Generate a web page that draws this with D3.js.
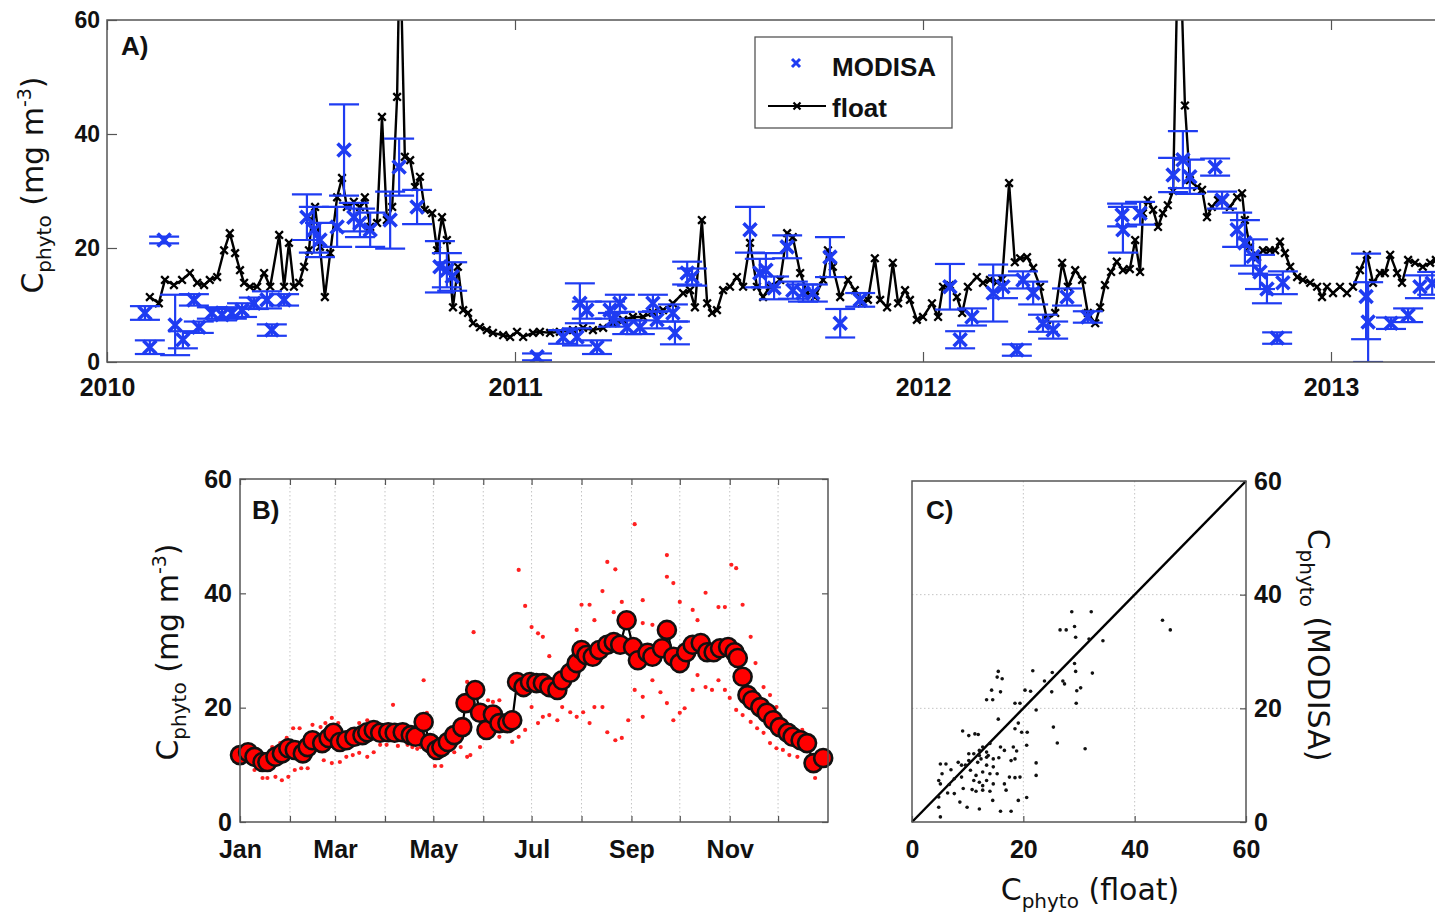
<!DOCTYPE html>
<html>
<head>
<meta charset="utf-8">
<script src="https://cdn.jsdelivr.net/npm/d3@7"></script>
<style>
  html, body { margin: 0; padding: 0; background: #fff; }
  svg { display: block; }
</style>
</head>
<body>
<svg id="fig" width="1435" height="916"></svg>
<script>
// ---------------- Panel A: float time series and MODISA match-ups ----------------
// [decimal year, Cphyto mg m-3]
const floatSeries = [
  [2010.105,11.4],[2010.127,10.3],[2010.142,14.4],[2010.164,13.5],[2010.184,14.4],[2010.203,15.6],
  [2010.221,13.9],[2010.238,13.5],[2010.252,14.4],[2010.270,14.9],[2010.287,19.6],[2010.301,22.6],
  [2010.314,19.1],[2010.326,16.1],[2010.336,13.9],[2010.350,13.2],[2010.368,13.2],[2010.385,15.6],
  [2010.400,13.2],[2010.422,22.3],[2010.434,13.2],[2010.446,20.9],[2010.458,13.2],[2010.471,13.9],
  [2010.483,16.7],[2010.495,19.6],[2010.502,24.9],[2010.510,27.2],[2010.522,20.2],[2010.534,11.4],
  [2010.547,19.1],[2010.564,28.9],[2010.576,32.3],[2010.588,27.2],[2010.605,28.1],[2010.620,27.2],
  [2010.632,28.9],[2010.645,23.7],[2010.662,24.4],[2010.674,43.0],[2010.686,24.9],[2010.699,27.2],
  [2010.711,46.5],[2010.718,75.0],[2010.730,36.0],[2010.743,35.4],[2010.755,30.7],[2010.767,32.5],
  [2010.779,26.7],[2010.797,26.1],[2010.809,19.6],[2010.821,25.4],[2010.833,21.4],[2010.848,9.6],
  [2010.860,16.7],[2010.873,9.1],[2010.885,8.6],[2010.897,6.8],[2010.914,6.1],[2010.931,5.6],
  [2010.946,5.1],[2010.971,4.7],[2010.988,4.4],[2011.005,5.3],[2011.020,4.4],[2011.044,5.1],
  [2011.061,5.3],[2011.086,5.1],[2011.110,5.3],[2011.142,5.6],[2011.167,6.0],[2011.191,5.6],
  [2011.216,6.0],[2011.240,6.8],[2011.265,7.4],[2011.289,7.9],[2011.314,7.9],[2011.338,8.6],
  [2011.363,9.1],[2011.387,10.3],[2011.412,12.1],[2011.429,12.6],[2011.441,9.6],[2011.458,24.9],
  [2011.471,10.3],[2011.483,8.6],[2011.495,9.1],[2011.510,12.6],[2011.527,13.2],[2011.544,14.9],
  [2011.559,13.2],[2011.576,20.9],[2011.593,13.2],[2011.608,11.4],[2011.625,13.2],[2011.650,14.4],
  [2011.667,22.6],[2011.681,21.9],[2011.699,15.6],[2011.716,12.1],[2011.735,11.4],[2011.755,14.4],
  [2011.767,19.6],[2011.779,16.7],[2011.797,11.4],[2011.816,14.4],[2011.833,12.6],[2011.850,10.3],
  [2011.865,10.9],[2011.882,18.2],[2011.895,10.9],[2011.912,9.6],[2011.926,17.4],[2011.939,10.3],
  [2011.956,12.6],[2011.968,10.9],[2011.985,7.4],[2012.000,7.9],[2012.022,10.3],[2012.037,7.9],
  [2012.049,13.2],[2012.066,13.5],[2012.083,11.4],[2012.096,8.6],[2012.110,13.2],[2012.132,14.9],
  [2012.147,13.9],[2012.164,14.4],[2012.181,14.0],[2012.194,14.5],[2012.211,31.4],[2012.225,17.5],
  [2012.238,18.2],[2012.255,18.4],[2012.270,16.5],[2012.287,13.2],[2012.304,7.4],[2012.324,8.6],
  [2012.341,17.4],[2012.355,13.2],[2012.373,16.1],[2012.390,14.4],[2012.404,8.6],[2012.422,6.8],
  [2012.434,9.6],[2012.446,13.5],[2012.461,15.8],[2012.475,17.6],[2012.490,16.1],[2012.507,16.3],
  [2012.520,21.4],[2012.532,15.8],[2012.539,26.1],[2012.551,28.4],[2012.564,26.7],[2012.576,23.7],
  [2012.588,26.1],[2012.600,27.5],[2012.613,30.0],[2012.627,80.0],[2012.642,45.0],[2012.654,31.9],
  [2012.672,30.7],[2012.684,30.2],[2012.696,25.4],[2012.708,27.2],[2012.723,28.4],[2012.735,28.4],
  [2012.752,27.2],[2012.770,28.9],[2012.782,29.6],[2012.789,24.9],[2012.801,20.2],[2012.819,18.4],
  [2012.833,19.6],[2012.850,19.6],[2012.863,19.6],[2012.875,21.1],[2012.887,19.1],[2012.900,16.7],
  [2012.917,14.9],[2012.931,14.4],[2012.949,13.9],[2012.966,13.2],[2012.978,11.4],[2012.990,13.2],
  [2013.005,12.1],[2013.022,13.2],[2013.039,12.1],[2013.054,13.2],[2013.071,16.1],[2013.088,18.8],
  [2013.103,13.9],[2013.120,15.6],[2013.132,15.6],[2013.145,18.8],[2013.162,15.6],[2013.174,13.9],
  [2013.189,17.9],[2013.206,17.4],[2013.225,16.7],[2013.243,17.4],[2013.257,17.9]
];

// [decimal year, Cphyto, error half-width]
const modisSeries = [
  [2010.093,8.6,1.2],[2010.105,2.6,1.2],[2010.140,21.4,0.6],[2010.167,6.5,5.3],[2010.186,3.9,1.5],
  [2010.213,10.9,1.0],[2010.225,6.1,1.0],[2010.257,8.6,1.0],[2010.282,8.3,1.0],[2010.306,8.6,1.0],
  [2010.331,9.1,1.2],[2010.360,10.3,1.0],[2010.392,10.9,1.5],[2010.404,5.6,1.0],[2010.434,10.9,1.0],
  [2010.490,25.4,4.0],[2010.507,23.2,4.0],[2010.522,21.4,3.0],[2010.564,23.7,3.5],[2010.581,37.2,8.0],
  [2010.605,25.4,2.5],[2010.620,24.4,2.5],[2010.645,23.2,3.0],[2010.694,24.9,5.0],[2010.716,34.2,5.0],
  [2010.760,27.2,3.0],[2010.816,16.7,4.5],[2010.833,16.1,3.0],[2010.846,15.0,2.5],
  [2011.054,0.9,0.6],[2011.118,4.4,1.2],[2011.152,4.4,1.5],[2011.159,10.3,3.5],[2011.176,9.1,1.5],
  [2011.201,2.6,1.2],[2011.233,9.1,1.5],[2011.240,7.4,1.2],[2011.257,10.3,1.5],[2011.275,6.1,1.2],
  [2011.306,6.1,1.2],[2011.338,10.3,1.5],[2011.348,7.4,1.5],[2011.387,8.6,1.5],[2011.392,5.1,2.0],
  [2011.422,15.6,2.0],[2011.434,14.9,1.5],[2011.576,23.2,4.0],[2011.600,15.6,2.5],[2011.615,16.1,3.0],
  [2011.635,13.0,2.0],[2011.667,20.2,2.0],[2011.681,12.6,1.5],[2011.706,12.1,1.5],[2011.730,12.1,1.5],
  [2011.772,18.4,3.5],[2011.797,6.8,2.5],[2011.846,10.9,1.2],
  [2012.066,13.2,4.0],[2012.091,3.9,1.5],[2012.120,7.9,1.5],[2012.172,12.1,5.0],[2012.196,13.2,2.0],
  [2012.230,2.1,1.0],[2012.245,14.4,1.5],[2012.270,12.1,2.0],[2012.294,6.8,1.5],[2012.319,5.6,1.5],
  [2012.353,11.4,1.5],[2012.404,7.9,1.0],[2012.488,25.8,2.0],[2012.490,23.2,4.0],[2012.532,26.1,2.0],
  [2012.613,32.8,3.0],[2012.637,35.5,5.0],[2012.654,32.5,3.0],[2012.716,34.2,1.5],[2012.733,28.4,1.5],
  [2012.770,23.2,3.0],[2012.789,20.9,4.0],[2012.809,18.5,3.0],[2012.826,15.8,3.0],[2012.843,12.8,2.5],
  [2012.868,4.2,1.0],[2012.882,13.9,2.0],
  [2013.086,11.5,7.5],[2013.091,7.0,7.0],[2013.147,6.8,1.0],[2013.189,8.2,1.2],[2013.218,13.2,2.0],
  [2013.248,13.8,2.0]
];

const yearTicks = [2010, 2011, 2012, 2013];
const cphytoTicks = [0, 20, 40, 60];
const legendLabels = ["MODISA", "float"];

// ---------------- Panel B: seasonal climatology ----------------
// [day of year, mean Cphyto]
const climMean = [
  [0,11.7],[5,12.2],[9,11.4],[14,10.5],[17,10.5],[22,11.4],[26,12.0],[30,12.9],[34,12.6],[39,12.0],
  [42,13.1],[45,14.3],[51,13.8],[55,14.7],[58,15.6],[62,14.0],[66,14.3],[71,14.9],[76,15.2],[79,15.7],
  [83,16.1],[87,15.6],[92,15.7],[96,15.6],[101,15.7],[106,15.2],[109,14.9],[114,17.5],[118,13.8],
  [122,12.6],[125,13.1],[129,14.0],[133,15.2],[138,16.6],[140,20.8],[146,23.1],[149,19.1],[153,16.1],
  [157,18.8],[161,17.3],[166,17.3],[169,17.8],[172,24.5],[176,23.6],[180,24.5],[184,24.3],[188,24.3],
  [192,23.6],[197,23.1],[200,24.8],[205,26.1],[209,27.8],[212,30.1],[215,29.2],[219,28.9],[223,30.1],
  [228,31.0],[232,31.5],[236,31.0],[240,35.3],[244,30.6],[247,28.3],[253,29.6],[256,28.9],[262,30.4],
  [265,33.6],[269,28.9],[273,27.8],[277,29.7],[281,31.0],[286,31.3],[290,29.7],[294,29.7],[298,30.4],
  [303,30.6],[307,29.7],[309,28.7],[312,25.4],[315,22.2],[318,21.3],[323,20.1],[327,19.1],[331,17.8],
  [335,16.6],[340,15.6],[343,14.9],[348,14.3],[352,13.8],[356,10.3],[362,11.2]
];

// [day of year, Cphyto] individual yearly values
const yearlyValues = [
  [0,13.1],[4,13.1],[0,10.8],[9,9.1],[14,7.7],[17,7.7],[22,7.9],[26,7.3],[30,7.9],[34,9.1],[38,9.4],
  [42,9.4],[20,13.1],[25,13.8],[29,14.7],[33,16.4],[37,16.4],[45,17.0],[50,16.6],[53,17.3],[57,18.2],
  [61,17.3],[52,10.8],[57,10.3],[62,10.5],[66,11.4],[70,11.7],[74,12.1],[79,11.4],[83,12.2],[87,13.5],
  [91,13.5],[74,17.3],[79,17.8],[83,16.6],[95,20.5],[98,13.3],[101,16.1],[104,13.5],[107,13.1],
  [110,12.8],[112,13.1],[116,19.1],[121,9.8],[125,9.8],[129,13.1],[133,12.2],[137,13.1],[141,11.4],
  [114,24.8],[145,33.2],[141,24.5],[143,11.7],[149,13.1],[154,21.3],[157,21.0],[161,21.3],[161,14.9],
  [169,14.0],[173,14.9],[173,44.1],[177,37.8],[181,34.1],[185,33.0],[188,32.4],[192,29.0],[177,16.1],
  [181,20.1],[185,17.3],[188,18.4],[192,18.7],[197,17.8],[200,20.1],[205,19.2],[209,18.4],[213,19.2],
  [217,17.3],[220,20.1],[225,20.1],[228,15.7],[233,14.3],[237,14.7],[241,17.8],[245,23.1],[250,18.4],
  [250,21.9],[256,24.8],[261,22.7],[265,20.8],[269,17.8],[273,19.1],[276,19.9],[281,23.1],[284,25.7],
  [289,23.6],[293,23.1],[297,24.8],[301,23.1],[304,21.7],[308,19.6],[312,18.7],[317,17.5],[321,16.4],
  [325,15.6],[329,13.8],[333,12.9],[337,12.6],[341,11.7],[346,11.4],[349,13.1],[353,12.6],[217,38.0],
  [228,45.5],[233,44.2],[225,40.4],[212,38.0],[220,35.3],[209,33.6],[245,52.1],[237,38.5],[250,38.8],
  [232,36.7],[250,34.8],[256,34.5],[265,46.7],[265,42.9],[269,41.8],[273,38.5],[281,37.1],[284,35.3],
  [289,40.1],[297,37.6],[301,37.6],[305,45.0],[308,44.4],[312,38.0],[317,32.4],[320,27.8],[325,23.6],
  [329,22.2],[333,20.1],[337,17.3],[340,16.1],[344,14.7],[349,16.1],[357,7.7],[360,9.5],[363,12.5]
];

const monthStarts = [0, 31, 59, 90, 120, 151, 181, 212, 243, 273, 304, 334];
const monthNames = ["Jan","Feb","Mar","Apr","May","Jun","Jul","Aug","Sep","Oct","Nov","Dec"];

// ---------------- Panel C: float vs MODISA ----------------
// [float Cphyto, MODISA Cphyto]
const matchups = [
  [28.7,37.0],[32.2,37.0],[45.0,35.5],[46.4,33.8],[26.6,33.8],[27.7,33.8],[29.2,34.4],[29.4,32.5],
  [31.8,32.2],[34.3,31.9],[29.2,27.9],[29.4,26.5],[32.4,26.2],[21.7,26.6],[25.2,26.3],[15.5,26.5],
  [16.2,25.2],[15.3,25.5],[23.8,24.8],[27.1,24.8],[27.4,24.3],[30.3,23.6],[29.6,23.1],[25.1,22.9],
  [14.3,23.2],[15.9,22.9],[20.3,23.2],[21.3,23.0],[13.4,21.5],[14.5,21.5],[18.5,20.9],[19.4,20.9],
  [29.5,20.9],[22.3,19.7],[15.5,18.1],[19.1,17.4],[18.5,16.4],[25.4,16.7],[19.7,15.8],[20.7,15.8],
  [9.1,16.0],[10.2,15.2],[11.3,15.5],[11.9,15.4],[26.1,13.9],[31.1,12.9],[20.6,13.5],[12.7,13.2],
  [14.0,13.8],[15.9,13.2],[16.6,12.6],[18.2,13.2],[18.8,12.5],[18.5,11.1],[11.1,12.0],[12.1,11.7],
  [13.4,11.4],[14.6,11.1],[10.2,10.8],[11.8,10.5],[12.4,11.1],[17.8,10.8],[22.3,10.4],[5.1,10.2],
  [6.1,10.2],[8.3,10.5],[9.6,10.0],[13.4,10.0],[14.6,9.7],[7.0,9.2],[10.5,9.1],[12.7,8.8],[14.0,8.5],
  [5.4,8.5],[22.3,8.2],[11.5,8.2],[8.9,7.9],[17.5,7.9],[19.4,7.9],[18.5,7.8],[7.6,7.6],[4.8,7.3],
  [11.1,7.3],[12.1,7.0],[13.4,7.3],[16.6,6.7],[6.7,6.6],[5.1,6.7],[9.2,5.9],[10.8,5.7],[11.5,5.4],
  [12.7,5.6],[16.9,5.6],[14.0,5.4],[6.4,5.1],[4.8,4.4],[19.1,3.8],[20.6,4.3],[8.6,3.5],[14.5,3.8],
  [9.9,2.6],[12.1,2.3],[15.9,1.9],[17.8,1.9],[5.1,0.9],[4.8,2.6],[7.6,5.0],[8.9,10.0],[10.2,12.0],
  [12.1,12.6],[13.4,12.3],[13.7,11.7],[15.6,11.3],[15.3,8.5],[12.7,6.4],[14.6,6.7]
];

// ---------------- drawing ----------------
const TICK_FONT = "'Liberation Sans', Arial, Helvetica, sans-serif";
const LABEL_FONT = "'DejaVu Sans', Verdana, sans-serif";
const FRAME = "#555";
const BLUE = "#1f3cf2";
const svg = d3.select("#fig");

function styleAxis(g, size) {
  g.select(".domain").remove();
  g.selectAll(".tick line").attr("stroke", FRAME).attr("stroke-width", 1.2);
  g.selectAll(".tick text")
    .attr("font-family", TICK_FONT).attr("font-weight", "bold")
    .attr("font-size", size).attr("fill", "#111");
  return g;
}

function crossPath(s) {
  return `M${-s},${-s}L${s},${s}M${-s},${s}L${s},${-s}`;
}

function phytoLabel(x, y, angle, rest, sup) {
  const t = svg.append("text")
    .attr("transform", `translate(${x},${y}) rotate(${angle})`)
    .attr("text-anchor", "middle")
    .attr("font-family", LABEL_FONT).attr("font-size", 30).attr("fill", "#111");
  t.append("tspan").text("C");
  t.append("tspan").attr("font-size", 20).attr("dy", 8).text("phyto");
  t.append("tspan").attr("dy", -8).text(rest);
  if (sup) {
    t.append("tspan").attr("font-size", 19).attr("dy", -12).text(sup);
    t.append("tspan").attr("dy", 12).text(")");
  }
}

function panelTag(x, y, txt) {
  svg.append("text").attr("x", x).attr("y", y)
    .attr("font-family", TICK_FONT).attr("font-weight", "bold")
    .attr("font-size", 26).attr("fill", "#111").text(txt);
}

// ===== Panel A =====
const A = { left: 107, top: 20, bottom: 362 };
const xA = d3.scaleLinear().domain([2010, 2013.3]).range([A.left, A.left + 3.3 * 408]);
const yA = d3.scaleLinear().domain([0, 60]).range([A.bottom, A.top]);

svg.append("clipPath").attr("id", "clipA")
  .append("rect").attr("x", A.left).attr("y", A.top)
  .attr("width", xA.range()[1] - A.left).attr("height", A.bottom - A.top);

styleAxis(svg.append("g").attr("transform", `translate(0,${A.bottom})`)
  .call(d3.axisBottom(xA).tickValues(yearTicks).tickFormat(d3.format("d"))
    .tickSizeInner(-10).tickSizeOuter(0).tickPadding(16)), 25);
styleAxis(svg.append("g").attr("transform", `translate(0,${A.top})`)
  .call(d3.axisTop(xA).tickValues(yearTicks).tickFormat("")
    .tickSizeInner(-10).tickSizeOuter(0)), 25);
styleAxis(svg.append("g").attr("transform", `translate(${A.left},0)`)
  .call(d3.axisLeft(yA).tickValues(cphytoTicks).tickFormat(d3.format("d"))
    .tickSizeInner(-10).tickSizeOuter(0).tickPadding(7)), 23);

const plotA = svg.append("g").attr("clip-path", "url(#clipA)");

const floatLine = d3.line().x(d => xA(d[0])).y(d => yA(d[1]));
plotA.append("path").datum(floatSeries).attr("d", floatLine)
  .attr("fill", "none").attr("stroke", "#000").attr("stroke-width", 2.4).attr("stroke-linejoin", "round");
plotA.selectAll(".fmark").data(floatSeries).join("path").attr("class", "fmark")
  .attr("transform", d => `translate(${xA(d[0])},${yA(d[1])})`)
  .attr("d", crossPath(3.8)).attr("stroke", "#000").attr("stroke-width", 2.3).attr("fill", "none");

const capHalf = 15;
const eb = plotA.selectAll(".eb").data(modisSeries).join("g").attr("class", "eb")
  .attr("stroke", BLUE).attr("stroke-width", 2.2).attr("fill", "none");
eb.append("line")
  .attr("x1", d => xA(d[0])).attr("x2", d => xA(d[0]))
  .attr("y1", d => yA(d[1] - d[2])).attr("y2", d => yA(d[1] + d[2]));
eb.append("line")
  .attr("x1", d => xA(d[0]) - capHalf).attr("x2", d => xA(d[0]) + capHalf)
  .attr("y1", d => yA(d[1] - d[2])).attr("y2", d => yA(d[1] - d[2]));
eb.append("line")
  .attr("x1", d => xA(d[0]) - capHalf).attr("x2", d => xA(d[0]) + capHalf)
  .attr("y1", d => yA(d[1] + d[2])).attr("y2", d => yA(d[1] + d[2]));
eb.append("path")
  .attr("transform", d => `translate(${xA(d[0])},${yA(d[1])})`)
  .attr("d", crossPath(6.5)).attr("stroke-width", 3.6);

// frame
svg.append("path")
  .attr("d", `M${xA.range()[1]},${A.top}H${A.left}V${A.bottom}H${xA.range()[1]}`)
  .attr("fill", "none").attr("stroke", FRAME).attr("stroke-width", 1.5);

panelTag(121, 55, "A)");
phytoLabel(43, 185, -90, " (mg m", "-3");

// legend
const leg = svg.append("g");
leg.append("rect").attr("x", 755).attr("y", 37).attr("width", 197).attr("height", 91)
  .attr("fill", "#fff").attr("stroke", FRAME).attr("stroke-width", 1.3);
leg.append("path").attr("transform", "translate(796,63)").attr("d", crossPath(4))
  .attr("stroke", BLUE).attr("stroke-width", 3).attr("fill", "none");
leg.append("line").attr("x1", 768).attr("x2", 826).attr("y1", 106).attr("y2", 106)
  .attr("stroke", "#000").attr("stroke-width", 2.2);
leg.append("path").attr("transform", "translate(797,106)").attr("d", crossPath(3.5))
  .attr("stroke", "#000").attr("stroke-width", 2.2).attr("fill", "none");
leg.selectAll("text").data(legendLabels).join("text")
  .attr("x", 832).attr("y", (d, i) => 76 + i * 41)
  .attr("font-family", TICK_FONT).attr("font-weight", "bold").attr("font-size", 26)
  .attr("fill", "#111").text(d => d);

// ===== Panel B =====
const B = { left: 240, right: 828, top: 479, bottom: 822 };
const xB = d3.scaleLinear().domain([0, 365]).range([B.left, B.right]);
const yB = d3.scaleLinear().domain([0, 60]).range([B.bottom, B.top]);

svg.append("g").selectAll("line").data(monthStarts.slice(1)).join("line")
  .attr("x1", d => xB(d)).attr("x2", d => xB(d)).attr("y1", B.top).attr("y2", B.bottom)
  .attr("stroke", "#c4c4c4").attr("stroke-width", 1).attr("stroke-dasharray", "1.5,2.5");

styleAxis(svg.append("g").attr("transform", `translate(0,${B.bottom})`)
  .call(d3.axisBottom(xB).tickValues(monthStarts)
    .tickFormat((d, i) => (i % 2 === 0 ? monthNames[i] : ""))
    .tickSizeInner(-6).tickSizeOuter(0).tickPadding(18)), 25);
styleAxis(svg.append("g").attr("transform", `translate(0,${B.top})`)
  .call(d3.axisTop(xB).tickValues(monthStarts).tickFormat("")
    .tickSizeInner(-6).tickSizeOuter(0)), 25);
styleAxis(svg.append("g").attr("transform", `translate(${B.left},0)`)
  .call(d3.axisLeft(yB).tickValues(cphytoTicks).tickFormat(d3.format("d"))
    .tickSizeInner(-6).tickSizeOuter(0).tickPadding(8)), 25);
styleAxis(svg.append("g").attr("transform", `translate(${B.right},0)`)
  .call(d3.axisRight(yB).tickValues(cphytoTicks).tickFormat("")
    .tickSizeInner(-6).tickSizeOuter(0)), 25);

svg.append("g").selectAll("circle").data(yearlyValues).join("circle")
  .attr("cx", d => xB(d[0])).attr("cy", d => yB(d[1])).attr("r", 2.1)
  .attr("fill", "#ff2020");

svg.append("path").datum(climMean)
  .attr("d", d3.line().x(d => xB(d[0])).y(d => yB(d[1])))
  .attr("fill", "none").attr("stroke", "#000").attr("stroke-width", 2.2);
svg.append("g").selectAll("circle").data(climMean).join("circle")
  .attr("cx", d => xB(d[0])).attr("cy", d => yB(d[1])).attr("r", 9)
  .attr("fill", "#ff0000").attr("stroke", "#111").attr("stroke-width", 2.6);

svg.append("rect").attr("x", B.left).attr("y", B.top)
  .attr("width", B.right - B.left).attr("height", B.bottom - B.top)
  .attr("fill", "none").attr("stroke", FRAME).attr("stroke-width", 1.5);

panelTag(252, 519, "B)");
phytoLabel(178, 652, -90, " (mg m", "-3");

// ===== Panel C =====
const C = { left: 912, right: 1246, top: 481, bottom: 822 };
const xC = d3.scaleLinear().domain([0, 60]).range([C.left, C.right]);
const yC = d3.scaleLinear().domain([0, 60]).range([C.bottom, C.top]);
const gridC = [20, 40];

svg.append("g").selectAll("line").data(gridC).join("line")
  .attr("x1", d => xC(d)).attr("x2", d => xC(d)).attr("y1", C.top).attr("y2", C.bottom)
  .attr("stroke", "#c4c4c4").attr("stroke-dasharray", "1.5,2.5");
svg.append("g").selectAll("line").data(gridC).join("line")
  .attr("y1", d => yC(d)).attr("y2", d => yC(d)).attr("x1", C.left).attr("x2", C.right)
  .attr("stroke", "#c4c4c4").attr("stroke-dasharray", "1.5,2.5");

styleAxis(svg.append("g").attr("transform", `translate(0,${C.bottom})`)
  .call(d3.axisBottom(xC).tickValues(cphytoTicks).tickFormat(d3.format("d"))
    .tickSizeInner(-6).tickSizeOuter(0).tickPadding(18)), 25);
styleAxis(svg.append("g").attr("transform", `translate(${C.right},0)`)
  .call(d3.axisRight(yC).tickValues(cphytoTicks).tickFormat(d3.format("d"))
    .tickSizeInner(-6).tickSizeOuter(0).tickPadding(8)), 25);

svg.append("line")
  .attr("x1", xC(0)).attr("y1", yC(0)).attr("x2", xC(60)).attr("y2", yC(60))
  .attr("stroke", "#000").attr("stroke-width", 2.4);

svg.append("g").selectAll("circle").data(matchups).join("circle")
  .attr("cx", d => xC(d[0])).attr("cy", d => yC(d[1])).attr("r", 1.8)
  .attr("fill", "#111");

svg.append("rect").attr("x", C.left).attr("y", C.top)
  .attr("width", C.right - C.left).attr("height", C.bottom - C.top)
  .attr("fill", "none").attr("stroke", FRAME).attr("stroke-width", 1.5);

panelTag(926, 519, "C)");
phytoLabel(1090, 900, 0, " (float)");
phytoLabel(1308, 645, 90, " (MODISA)");
</script>
</body>
</html>
